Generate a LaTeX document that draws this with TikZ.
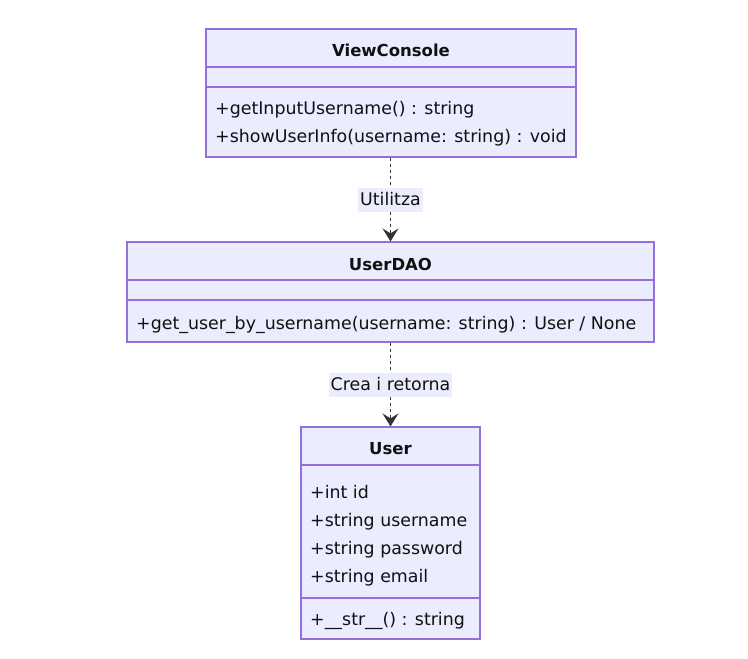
\documentclass[tikz,border=0pt]{standalone}
\usepackage{fontspec}
\setmainfont{DejaVu Sans}
\usetikzlibrary{arrows.meta}

\definecolor{fondoClase}{HTML}{ECECFF}
\definecolor{bordeClase}{HTML}{9370DB}
\definecolor{linea}{HTML}{333333}
\definecolor{texto}{HTML}{111111}

\tikzset{
    clase/.style={draw=bordeClase, fill=fondoClase, line width=1.2bp, inner sep=0pt},
    titulo/.style={font=\fontsize{16.5bp}{20bp}\selectfont\bfseries, text=texto, inner sep=0pt},
    miembro/.style={font=\fontsize{17.4bp}{20bp}\selectfont, text=texto, inner sep=0pt, anchor=base west},
    etiqueta/.style={font=\fontsize{17.4bp}{20bp}\selectfont, text=texto, fill=fondoClase,
        inner xsep=2bp, inner ysep=0pt, minimum height=24bp},
    dependencia/.style={draw=linea, line width=1bp, dashed, dash pattern=on 3bp off 3bp,
        -{Stealth[length=13bp, width=16bp, inset=5bp]}}
}

\begin{document}
\begin{tikzpicture}[x=1bp, y=-1bp]

    % marco
    \useasboundingbox (0,0) rectangle (748,659);

    % clase ViewConsole
    \node[clase, minimum width=370bp, minimum height=128bp] (vc) at (391,93) {};
    \draw[bordeClase, line width=1.2bp] (vc.west |- 0,67) -- (vc.east |- 0,67);
    \draw[bordeClase, line width=1.2bp] (vc.west |- 0,87) -- (vc.east |- 0,87);
    \node[titulo] (vcNom) at (391,50) {ViewConsole};
    \node[miembro] (vcM1) at (215,114.5) {+getInputUsername() : string};
    \node[miembro] (vcM2) at (215,142.5) {+showUserInfo(username: string) : void};

    % clase UserDAO
    \node[clase, minimum width=527bp, minimum height=100bp] (dao) at (390.5,292) {};
    \draw[bordeClase, line width=1.2bp] (dao.west |- 0,280) -- (dao.east |- 0,280);
    \draw[bordeClase, line width=1.2bp] (dao.west |- 0,300) -- (dao.east |- 0,300);
    \node[titulo] (daoNom) at (390.5,264) {UserDAO};
    \node[miembro] (daoM1) at (136,329.5) {+get\_user\_by\_username(username: string) : User / None};

    % clase User
    \node[clase, minimum width=179bp, minimum height=212bp] (usr) at (390.5,533) {};
    \draw[bordeClase, line width=1.2bp] (usr.west |- 0,465) -- (usr.east |- 0,465);
    \draw[bordeClase, line width=1.2bp] (usr.west |- 0,598) -- (usr.east |- 0,598);
    \node[titulo] (usrNom) at (390.5,449) {User};
    \node[miembro] (usrA1) at (310,498.5) {+int id};
    \node[miembro] (usrA2) at (310,526.5) {+string username};
    \node[miembro] (usrA3) at (310,554.5) {+string password};
    \node[miembro] (usrA4) at (310,582.5) {+string email};
    \node[miembro] (usrM1) at (310,625.5) {+\_\_str\_\_() : string};

    % relaciones
    \draw[dependencia] (vc.south -| 390.5,0) -- node[etiqueta] (rel1) {Utilitza} (dao.north);
    \draw[dependencia] (dao.south) -- node[etiqueta] (rel2) {Crea i retorna} (usr.north);

\end{tikzpicture}
\end{document}
